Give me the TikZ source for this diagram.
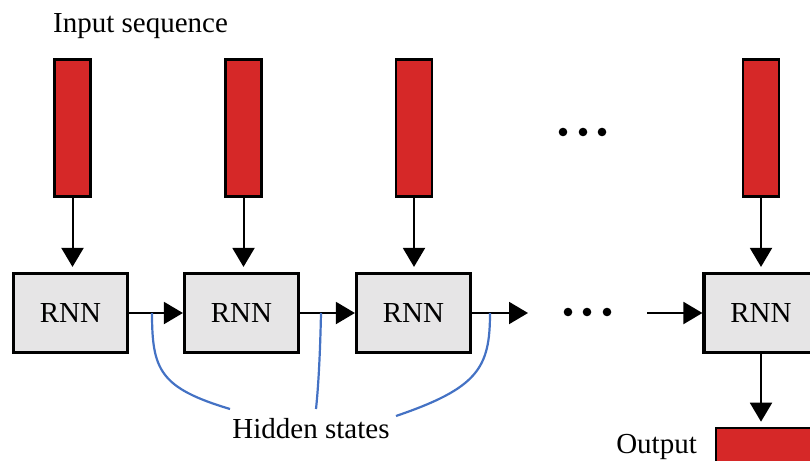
\documentclass[tikz,border=0pt]{standalone}
\usepackage{fontspec}
\setmainfont{Liberation Serif}
\usetikzlibrary{arrows.meta}
\definecolor{barred}{HTML}{D62828}
\definecolor{boxgray}{HTML}{E6E5E6}
\definecolor{hsblue}{HTML}{4472C4}
\begin{document}
\begin{tikzpicture}[x=1pt,y=-1pt,
  rnnbox/.style={draw=black,line width=3.2pt,fill=boxgray,minimum width=114pt,minimum height=79pt,inner sep=0pt,font=\fontsize{29}{34}\selectfont},
  inbar/.style={draw=black,line width=2.6pt,fill=barred,minimum width=36pt,minimum height=137pt,inner sep=0pt},
  outbar/.style={draw=black,line width=2.6pt,fill=barred,minimum width=98pt,minimum height=40pt,inner sep=0pt},
  flow/.style={draw=black,line width=2pt,-{Triangle[length=19pt,width=22pt]}},
  hsline/.style={draw=hsblue,line width=2.2pt},
  lbl/.style={inner sep=0pt,font=\fontsize{29}{34}\selectfont},
  dotmark/.style={fill=black,draw=none}
]
\useasboundingbox (0,0) rectangle (810,460);
\clip (0,0) rectangle (810,460);

% input bars
\node[inbar] (b1) at (72.5,128) {};
\node[inbar] (b2) at (243.5,128) {};
\node[inbar] (b3) at (414,128) {};
\node[inbar] (b4) at (761,128) {};

% RNN boxes
\node[rnnbox] (r1) at (70.5,313) {RNN};
\node[rnnbox] (r2) at (241.5,313) {RNN};
\node[rnnbox] (r3) at (413.5,313) {RNN};
\node[rnnbox] (r4) at (761,313) {RNN};

% output bar
\node[outbar] (o) at (765,448) {};

% labels
\node[lbl,anchor=base west] (tin) at (53,33) {Input sequence};
\node[lbl,anchor=base] (ths) at (311,438) {Hidden states};
\node[lbl,anchor=base east] (tout) at (697,453) {Output};

% vertical arrows
\draw[flow,shorten >=5pt] (b1.south) -- (b1.south |- r1.north);
\draw[flow,shorten >=5pt] (b2.south) -- (b2.south |- r2.north);
\draw[flow,shorten >=5pt] (b3.south) -- (b3.south |- r3.north);
\draw[flow,shorten >=5pt] (b4.south) -- (b4.south |- r4.north);
\draw[flow,shorten >=5pt] (r4.south) -- (r4.south |- o.north);

% horizontal arrows
\coordinate (e3) at (528,313);
\coordinate (s4) at (647,313);
\draw[flow] (r1.east) -- (r2.west);
\draw[flow] (r2.east) -- (r3.west);
\draw[flow] (r3.east) -- (e3);
\draw[flow] (s4) -- (r4.west);

% ellipsis dots
\foreach \x in {563,583,602} \fill[dotmark] (\x,132) circle (4.3pt);
\foreach \x in {568,587,607} \fill[dotmark] (\x,312) circle (4.3pt);

% hidden state pointers
\coordinate (h1) at (152,313);
\coordinate (h2) at (321,313);
\coordinate (h3) at (490,313);
\coordinate (h1e) at (230,409);
\coordinate (h2e) at (316,409);
\coordinate (h3e) at (396,416);
\draw[hsline] (h1) .. controls (152,370) and (160,388) .. (h1e);
\draw[hsline] (h2) .. controls (320,360) and (318,390) .. (h2e);
\draw[hsline] (h3) .. controls (490,368) and (478,388) .. (h3e);
\end{tikzpicture}
\end{document}
